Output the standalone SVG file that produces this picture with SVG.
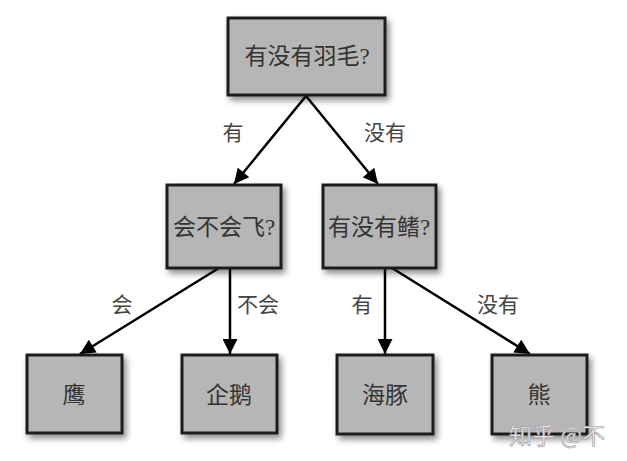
<svg xmlns="http://www.w3.org/2000/svg" width="627" height="461" viewBox="0 0 627 461">
<defs>
<filter id="sh" x="-20%" y="-20%" width="150%" height="150%">
<feDropShadow dx="3" dy="4" stdDeviation="3" flood-color="#000" flood-opacity="0.45"/>
</filter>
<marker id="ah" viewBox="0 0 10 10" refX="10" refY="5" markerWidth="6.5" markerHeight="6" orient="auto" markerUnits="strokeWidth">
<path d="M0,0 L10,5 L0,10 z" fill="#000"/>
</marker>
<style>
.box{fill:#b6b6b6;stroke:#1e1e1e;stroke-width:3;filter:url(#sh)}
.nt{font-family:"Liberation Serif","Noto Sans CJK SC",serif;font-size:23px;fill:#333;text-anchor:middle;dominant-baseline:central}
.lb{font-family:"Liberation Serif","Noto Sans CJK SC",serif;font-size:21px;fill:#444;text-anchor:middle;dominant-baseline:central}
.ed{stroke:#000;stroke-width:2.5;fill:none;marker-end:url(#ah)}
.wm{font-family:"Noto Sans CJK SC",sans-serif;font-size:23px;fill:#f4f4f4;stroke:#a0a0a0;stroke-width:0.7}
</style>
</defs>
<g id="connectors">
<line class="ed" x1="306" y1="96" x2="234" y2="184"/>
<line class="ed" x1="306" y1="96" x2="378" y2="184"/>
<line class="ed" x1="219" y1="268" x2="80" y2="354"/>
<line class="ed" x1="230" y1="268" x2="230" y2="354"/>
<line class="ed" x1="385" y1="268" x2="385" y2="354"/>
<line class="ed" x1="392" y1="268" x2="530" y2="354"/>
<text class="lb" x="233" y="133">有</text>
<text class="lb" x="385" y="133">没有</text>
<text class="lb" x="122" y="305">会</text>
<text class="lb" x="258" y="305">不会</text>
<text class="lb" x="362" y="305">有</text>
<text class="lb" x="498" y="305">没有</text>
</g>
<g id="n_feather"><rect class="box" x="228" y="18" width="157" height="77"/><text class="nt" x="307" y="56">有没有羽毛?</text></g>
<g id="n_fly"><rect class="box" x="167" y="185" width="114" height="83"/><text class="nt" x="224" y="227">会不会飞?</text></g>
<g id="n_fin"><rect class="box" x="323" y="185" width="113" height="83"/><text class="nt" x="379" y="227">有没有鳍?</text></g>
<g id="n_eagle"><rect class="box" x="27" y="355" width="95" height="78"/><text class="nt" x="74" y="395">鹰</text></g>
<g id="n_penguin"><rect class="box" x="182" y="355" width="95" height="78"/><text class="nt" x="229" y="395">企鹅</text></g>
<g id="n_dolphin"><rect class="box" x="337" y="355" width="96" height="79"/><text class="nt" x="385" y="395">海豚</text></g>
<g id="n_bear"><rect class="box" x="492" y="355" width="95" height="79"/><text class="nt" x="539" y="395">熊</text></g>
<text class="wm" x="509" y="444">知乎 @不</text>
</svg>
